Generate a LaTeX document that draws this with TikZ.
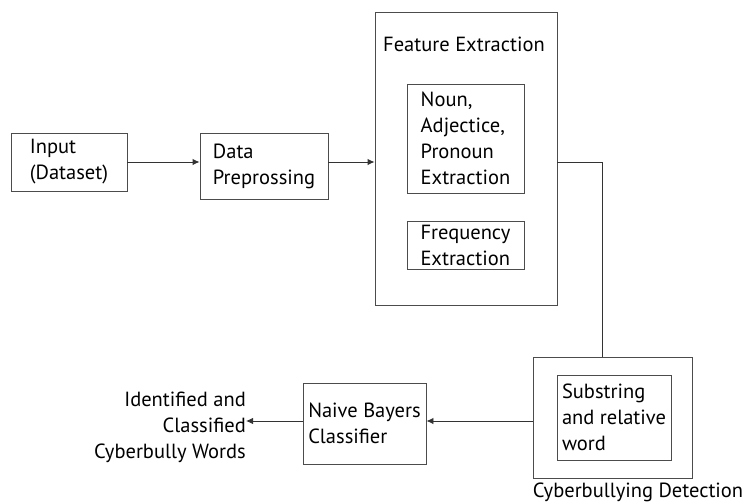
\documentclass[tikz,border=0pt]{standalone}
\usepackage{fontspec}
\setmainfont{PT Sans}
\usetikzlibrary{arrows.meta}
\begin{document}
\begin{tikzpicture}[x=1pt,y=-1pt,
  txt/.style={font=\fontsize{20.5}{26}\selectfont, inner sep=0pt},
  box/.style={txt, draw=black!70, line width=0.9pt, align=left},
  conn/.style={draw=black!80, line width=0.9pt},
  arr/.style={conn, -{Latex[length=7pt,width=6.5pt]}}]
\useasboundingbox (0,0) rectangle (756,504);
\node[box, minimum width=116pt, minimum height=58pt] (input) at (69,162) {Input\\(Dataset)};
\node[box, minimum width=128pt, minimum height=66pt] (data) at (264,166) {Data\\Preprossing};
\node[box, minimum width=182pt, minimum height=293pt] (feat) at (466,158.5) {};
\node[txt] (featlabel) at (464,44) {Feature Extraction};
\node[box, minimum width=117pt, minimum height=109pt] (noun) at (465.5,138.5) {Noun,\\Adjectice,\\Pronoun\\Extraction};
\node[box, minimum width=117pt, minimum height=48pt] (freq) at (465.5,245) {Frequency\\Extraction};
\node[box, minimum width=159pt, minimum height=121pt] (cyber) at (612.5,417.5) {};
\node[box, minimum width=114pt, minimum height=85pt] (sub) at (614,417.5) {Substring\\and relative\\word};
\node[txt] (cyberlabel) at (638,492) {Cyberbullying Detection};
\node[box, minimum width=123pt, minimum height=81pt] (naive) at (364.5,423.5) {Naive Bayers\\Classifier};
\node[txt, align=right, anchor=east] (out) at (246,427) {Identified and\\Classified\\Cyberbully Words};
\draw[arr] (input.east) -- (input.east -| data.west);
\draw[arr] (input.east -| data.east) -- (input.east -| feat.west);
\draw[conn] ([yshift=-3.5pt]feat.east) -| ([xshift=-10.5pt]cyber.north);
\draw[arr] ([yshift=-3.5pt]cyber.west) -- ([yshift=-3.5pt]cyber.west -| naive.east);
\draw[arr] ([yshift=2.5pt]naive.west) -- ([yshift=2.5pt]naive.west -| out.east);
\end{tikzpicture}
\end{document}
